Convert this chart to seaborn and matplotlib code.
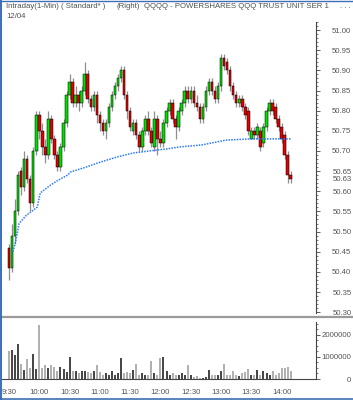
import numpy as np
import pandas as pd
import matplotlib
matplotlib.use("Agg")
import matplotlib.pyplot as plt
import seaborn as sns
from matplotlib.lines import Line2D
from matplotlib.ticker import MultipleLocator
from matplotlib.transforms import blended_transform_factory

# 3-minute bars from 9:30, QQQQ intraday 12/04
bar_times = pd.date_range("2006-12-04 09:30", periods=94, freq="3min")

opens = [50.46, 50.41, 50.49, 50.55, 50.65, 50.61, 50.68, 50.63, 50.57, 50.70,
         50.79, 50.75, 50.71, 50.69, 50.78, 50.73, 50.69, 50.66, 50.71, 50.77,
         50.84, 50.87, 50.82, 50.84, 50.82, 50.85, 50.89, 50.83, 50.81, 50.84,
         50.79, 50.77, 50.75, 50.77, 50.81, 50.84, 50.86, 50.88, 50.90, 50.84,
         50.80, 50.75, 50.77, 50.74, 50.71, 50.75, 50.78, 50.75, 50.71, 50.78,
         50.73, 50.72, 50.77, 50.80, 50.82, 50.78, 50.76, 50.80, 50.82, 50.85,
         50.83, 50.85, 50.82, 50.81, 50.78, 50.81, 50.85, 50.87, 50.85, 50.83,
         50.86, 50.93, 50.92, 50.90, 50.86, 50.84, 50.82, 50.83, 50.81, 50.80,
         50.73, 50.75, 50.74, 50.75, 50.72, 50.76, 50.80, 50.82, 50.81, 50.78,
         50.76, 50.74, 50.69, 50.64]
closes = [50.41, 50.49, 50.55, 50.64, 50.61, 50.68, 50.63, 50.57, 50.70, 50.79,
          50.75, 50.71, 50.69, 50.78, 50.73, 50.69, 50.66, 50.71, 50.77, 50.84,
          50.87, 50.82, 50.84, 50.82, 50.85, 50.89, 50.83, 50.81, 50.84, 50.79,
          50.77, 50.75, 50.77, 50.81, 50.84, 50.86, 50.88, 50.90, 50.84, 50.80,
          50.76, 50.77, 50.74, 50.71, 50.75, 50.78, 50.75, 50.72, 50.78, 50.73,
          50.72, 50.77, 50.80, 50.82, 50.78, 50.76, 50.80, 50.82, 50.85, 50.83,
          50.85, 50.82, 50.81, 50.78, 50.81, 50.85, 50.87, 50.85, 50.83, 50.86,
          50.93, 50.91, 50.90, 50.86, 50.84, 50.82, 50.83, 50.81, 50.79, 50.75,
          50.75, 50.74, 50.76, 50.71, 50.76, 50.80, 50.82, 50.80, 50.78, 50.76,
          50.73, 50.69, 50.64, 50.63]
highs = [50.47, 50.52, 50.58, 50.65, 50.66, 50.70, 50.69, 50.64, 50.71, 50.80,
         50.80, 50.77, 50.73, 50.80, 50.79, 50.74, 50.70, 50.72, 50.78, 50.85,
         50.89, 50.88, 50.86, 50.85, 50.86, 50.92, 50.90, 50.84, 50.85, 50.85,
         50.80, 50.78, 50.78, 50.82, 50.85, 50.87, 50.89, 50.91, 50.91, 50.85,
         50.81, 50.78, 50.78, 50.75, 50.76, 50.79, 50.80, 50.76, 50.80, 50.79,
         50.75, 50.78, 50.81, 50.83, 50.83, 50.79, 50.81, 50.83, 50.86, 50.86,
         50.86, 50.86, 50.84, 50.82, 50.82, 50.86, 50.88, 50.88, 50.86, 50.87,
         50.94, 50.94, 50.93, 50.91, 50.87, 50.85, 50.84, 50.84, 50.82, 50.81,
         50.76, 50.76, 50.77, 50.76, 50.77, 50.81, 50.83, 50.83, 50.82, 50.79,
         50.77, 50.75, 50.70, 50.65]
lows = [50.38, 50.40, 50.47, 50.54, 50.59, 50.60, 50.62, 50.55, 50.56, 50.69,
        50.73, 50.69, 50.67, 50.68, 50.72, 50.68, 50.65, 50.65, 50.70, 50.76,
        50.83, 50.81, 50.81, 50.80, 50.81, 50.84, 50.82, 50.80, 50.80, 50.77,
        50.75, 50.74, 50.73, 50.76, 50.80, 50.83, 50.85, 50.87, 50.83, 50.78,
        50.75, 50.74, 50.73, 50.70, 50.70, 50.74, 50.74, 50.71, 50.70, 50.69,
        50.71, 50.71, 50.76, 50.79, 50.77, 50.73, 50.75, 50.79, 50.81, 50.82,
        50.82, 50.81, 50.80, 50.77, 50.77, 50.80, 50.84, 50.84, 50.82, 50.82,
        50.85, 50.90, 50.89, 50.85, 50.83, 50.81, 50.81, 50.80, 50.78, 50.74,
        50.73, 50.73, 50.73, 50.70, 50.71, 50.75, 50.79, 50.79, 50.77, 50.75,
        50.72, 50.68, 50.62, 50.62]
volumes = [1270000, 1300000, 1100000, 1600000, 700000, 400000, 900000, 500000, 1150000, 450000,
           2450000, 500000, 650000, 500000, 650000, 550000, 350000, 550000, 450000, 300000,
           1000000, 350000, 350000, 250000, 350000, 350000, 300000, 250000, 350000, 650000,
           300000, 200000, 250000, 200000, 350000, 200000, 250000, 950000, 250000, 300000,
           250000, 400000, 700000, 200000, 250000, 200000, 170000, 800000, 250000, 200000,
           950000, 1000000, 350000, 200000, 250000, 200000, 200000, 250000, 170000, 650000,
           170000, 100000, 120000, 50000, 50000, 80000, 400000, 170000, 200000, 170000,
           350000, 700000, 200000, 170000, 350000, 170000, 120000, 250000, 300000, 450000,
           200000, 170000, 400000, 170000, 350000, 250000, 200000, 350000, 200000, 250000,
           500000, 500000, 550000, 350000]

# average price line (minutes after 9:30, price)
avg_minutes = [4, 7, 10, 17, 24, 28, 31, 41, 49, 58, 61, 74, 90, 107, 123, 139,
               156, 169, 191, 215, 240, 257, 279]
avg_price = [50.45, 50.48, 50.52, 50.54, 50.553, 50.561, 50.596, 50.615, 50.628,
             50.640, 50.648, 50.658, 50.672, 50.685, 50.695, 50.700, 50.705, 50.710,
             50.715, 50.727, 50.730, 50.730, 50.730]
last_price = 50.63

time_ticks = [0, 30, 60, 90, 120, 150, 180, 210, 240, 270]
time_labels = ["9:30", "10:00", "10:30", "11:00", "11:30", "12:00", "12:30",
               "13:00", "13:30", "14:00"]

df = pd.DataFrame({"time": bar_times, "open": opens, "high": highs,
                   "low": lows, "close": closes, "volume": volumes})
df["minute"] = (df["time"] - df["time"].iloc[0]).dt.total_seconds() / 60
up = df["close"] >= df["open"]

sns.set_style("white")
plt.rcParams["font.family"] = ["Liberation Sans", "DejaVu Sans"]

W, H = 353, 400
fig = plt.figure(figsize=(W / 100, H / 100), dpi=100)
xlim = (-6.9, 304)
grey_txt = "#555555"

# price panel
ax = fig.add_axes([2 / W, 1 - 313 / H, 314 / W, 291 / H])
ax.vlines(df["minute"], df["low"], df["high"], color="#8f8f8f", lw=0.9, zorder=1)
ax.bar(df["minute"], df["close"] - df["open"], bottom=df["open"], width=2.5,
       color=np.where(up, "#00dd00", "#e00000"), edgecolor="black",
       linewidth=0.35, zorder=2)
sns.lineplot(x=avg_minutes, y=avg_price, ax=ax, color="#2b7bff", lw=1.1,
             linestyle=(0, (1, 0.8)), legend=False, zorder=3)

ax.set_xlim(*xlim)
ax.set_ylim(50.298, 51.020)
ax.set_xticks([])
ax.yaxis.tick_right()
ax.set_yticks(np.round(np.arange(50.30, 51.001, 0.05), 2))
ax.set_yticklabels([f"{v:.2f}" for v in ax.get_yticks()])
ax.yaxis.set_minor_locator(MultipleLocator(0.01))
ax.tick_params(axis="y", which="major", direction="out", length=3, width=0.6,
               color="#444444", labelsize=5.6, labelcolor=grey_txt, pad=22.5)
ax.tick_params(axis="y", which="minor", direction="out", length=1.5, width=0.5,
               color="#444444")
plt.setp(ax.get_yticklabels(), ha="right")
for side in ["top", "left", "bottom"]:
    ax.spines[side].set_visible(False)
ax.spines["right"].set_color("#444444")
ax.spines["right"].set_linewidth(0.8)
ax.set_xlabel("")
ax.set_ylabel("")
trans = blended_transform_factory(ax.transAxes, ax.transData)
ax.text(350 / 314, last_price - 0.002, f"{last_price:.2f}", transform=trans,
        ha="right", va="center", fontsize=5.6, color=grey_txt)

# volume panel
vax = fig.add_axes([2 / W, 1 - 379 / H, 314 / W, 57 / H])
vax.vlines(df["minute"], 0, df["volume"],
           colors=np.where(up, "#111111", "#9a9a9a"), lw=1.1)
vax.set_xlim(*xlim)
vax.set_ylim(0, 2.59e6)
vax.yaxis.tick_right()
vax.set_yticks([0, 1000000, 2000000])
vax.set_yticklabels(["0", "1000000", "2000000"])
vax.yaxis.set_minor_locator(MultipleLocator(250000))
vax.tick_params(axis="y", which="major", direction="out", length=3, width=0.6,
                color="#444444", labelsize=5.6, labelcolor=grey_txt, pad=22.5)
vax.tick_params(axis="y", which="minor", direction="out", length=1.5, width=0.5,
                color="#444444")
plt.setp(vax.get_yticklabels(), ha="right")
vax.set_xticks(time_ticks)
vax.set_xticklabels(time_labels)
vax.tick_params(axis="x", direction="out", length=3, width=0.6, color="#444444",
                labelsize=5.6, labelcolor=grey_txt, pad=4)
for side in ["top", "left"]:
    vax.spines[side].set_visible(False)
for side in ["right", "bottom"]:
    vax.spines[side].set_color("#444444")
    vax.spines[side].set_linewidth(0.8)

# header texts
head = dict(fontsize=5.6, color="#505050", va="center")
fig.text(6 / W, 1 - 7 / H, "Intraday(1-Min) ( Standard* )", **head)
fig.text(116 / W, 1 - 7 / H, "(Right)", **head)
fig.text(144 / W, 1 - 7 / H, "QQQQ - POWERSHARES QQQ TRUST UNIT SER 1", **head)
fig.text(340 / W, 1 - 7 / H, ". . .", **head)
fig.text(6 / W, 1 - 16 / H, "12/04", **head)

# panel separator and window frame
fig.add_artist(Line2D([0, 1], [1 - 317 / H] * 2, color="#9a9a9a", lw=1.6))
fig.add_artist(Line2D([0.6 / W] * 2, [0, 1], color="#3c6eb4", lw=1.4))
fig.add_artist(Line2D([0, 1], [1 - 0.5 / H] * 2, color="#3c6eb4", lw=1.0))
fig.add_artist(Line2D([0, 1], [1 - 399 / H] * 2, color="#3c6eb4", lw=1.2))

fig.savefig("out.png", dpi=100)
